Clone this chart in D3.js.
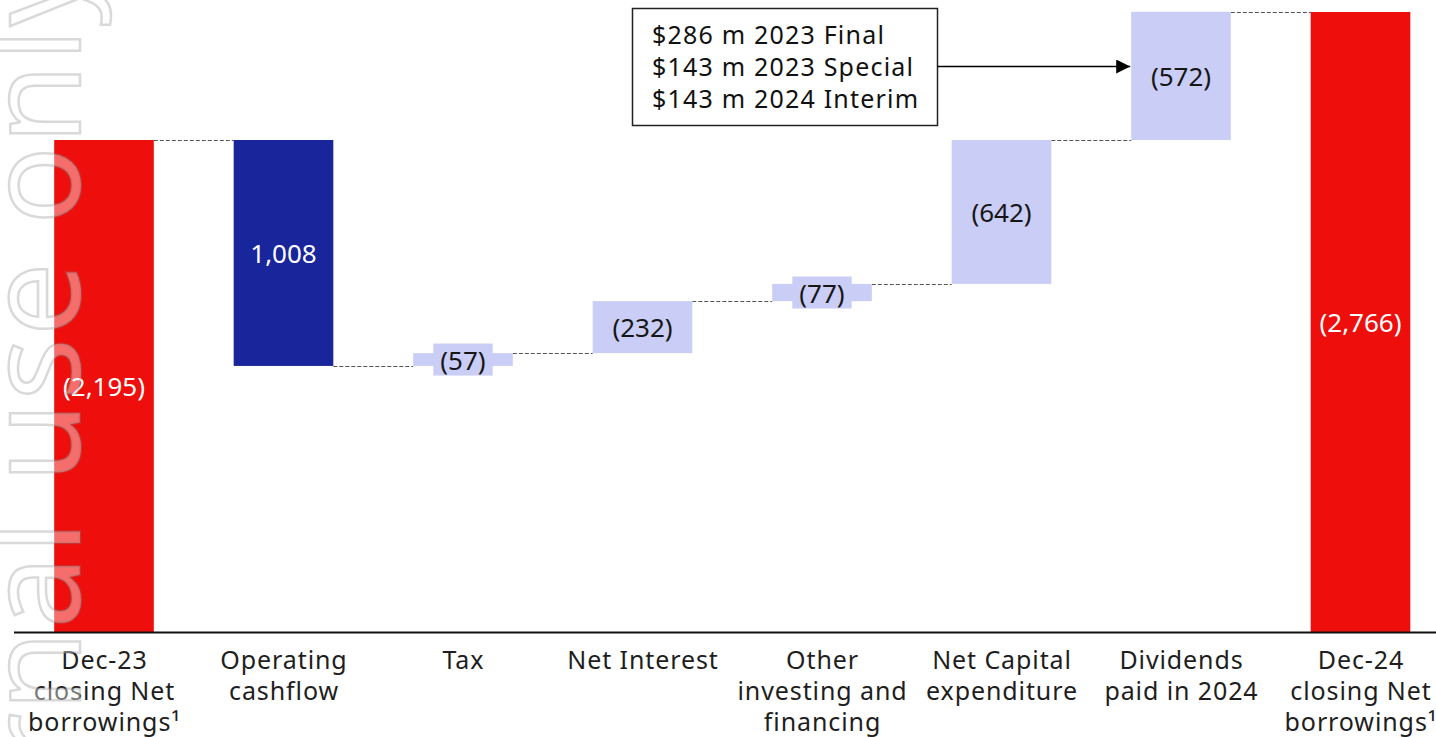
<!DOCTYPE html>
<html>
<head>
<meta charset="utf-8">
<script src="https://cdn.jsdelivr.net/npm/d3@7"></script>
<style>
  html, body { margin: 0; padding: 0; background: #ffffff; }
  svg { display: block; font-family: "Noto Sans", sans-serif; }
</style>
</head>
<body>
<svg id="chart" width="1436" height="737"></svg>
<script>
// ---- Data ----
const categories = [
  ["Dec-23", "closing Net", "borrowings\u00B9"],
  ["Operating", "cashflow"],
  ["Tax"],
  ["Net Interest"],
  ["Other", "investing and", "financing"],
  ["Net Capital", "expenditure"],
  ["Dividends", "paid in 2024"],
  ["Dec-24", "closing Net", "borrowings\u00B9"]
];
// movement in net borrowings (US$ m); totals are absolute levels
const amounts = [2195, -1008, 57, 232, 77, 642, 572, 2766];
const kinds = ["total", "decrease", "increase", "increase", "increase", "increase", "increase", "total"];
const valueLabels = ["(2,195)", "1,008", "(57)", "(232)", "(77)", "(642)", "(572)", "(2,766)"];
const calloutLines = ["$286 m 2023 Final", "$143 m 2023 Special", "$143 m 2024 Interim"];
const watermarkText = "Internal use only";

// ---- Styles ----
const colors = { total: "#ee0e0b", decrease: "#19259a", increase: "#cacdf6" };
const labelColors = { total: "#ffffff", decrease: "#ffffff", increase: "#161616" };
const W = 1436, H = 737;
const baseY = 632, topY = 12;

const svg = d3.select("#chart");

// ---- Build waterfall steps ----
let running = 0;
const steps = amounts.map((v, i) => {
  let lo, hi, end;
  if (kinds[i] === "total") { lo = 0; hi = v; end = v; }
  else { const start = running; end = start + v; lo = Math.min(start, end); hi = Math.max(start, end); }
  running = end;
  return { i, cat: categories[i], kind: kinds[i], lo, hi, end, label: valueLabels[i] };
});

// ---- Scales ----
const x = d3.scaleBand()
  .domain(d3.range(categories.length))
  .range([14.25, 1450.25])
  .paddingInner(0.445)
  .paddingOuter(0.2225);
const y = d3.scaleLinear().domain([0, d3.max(amounts)]).range([baseY, topY]);
const bw = x.bandwidth();

// ---- Connectors ----
svg.append("g").selectAll("line")
  .data(steps.slice(0, -1))
  .join("line")
  .attr("x1", d => x(d.i) + bw)
  .attr("x2", d => x(d.i + 1))
  .attr("y1", d => Math.round(y(d.end)) + 0.5)
  .attr("y2", d => Math.round(y(d.end)) + 0.5)
  .attr("stroke", "#555")
  .attr("stroke-width", 1)
  .attr("stroke-dasharray", "4,2");

// ---- Bars ----
svg.append("g").selectAll("rect")
  .data(steps)
  .join("rect")
  .attr("x", d => x(d.i))
  .attr("y", d => y(d.hi))
  .attr("width", bw)
  .attr("height", d => y(d.lo) - y(d.hi))
  .attr("fill", d => colors[d.kind]);

// ---- Value labels ----
const lblG = svg.append("g");
steps.forEach(d => {
  const cx = x(d.i) + bw / 2;
  const cy = (y(d.lo) + y(d.hi)) / 2;
  const barH = y(d.lo) - y(d.hi);
  const g = lblG.append("g");
  const t = g.append("text")
    .attr("x", cx).attr("y", cy)
    .attr("text-anchor", "middle")
    .attr("dominant-baseline", "central")
    .attr("font-size", 26)
    .attr("fill", labelColors[d.kind])
    .text(d.label);
  if (barH < 32) {
    const bb = t.node().getBBox();
    g.insert("rect", "text")
      .attr("x", cx - bb.width / 2 - 7)
      .attr("y", cy - 16)
      .attr("width", bb.width + 14)
      .attr("height", 32)
      .attr("fill", colors[d.kind]);
  }
});

// ---- Axis line ----
svg.append("line")
  .attr("x1", 14).attr("x2", W)
  .attr("y1", baseY + 0.5).attr("y2", baseY + 0.5)
  .attr("stroke", "#111").attr("stroke-width", 2);

// ---- Category labels ----
const catG = svg.append("g");
steps.forEach(d => {
  const cx = x(d.i) + bw / 2 + 0.5;
  const t = catG.append("text")
    .attr("text-anchor", "middle")
    .attr("font-size", 25)
    .attr("letter-spacing", 0.9)
    .attr("fill", "#1e1e1e");
  d.cat.forEach((line, k) => {
    t.append("tspan").attr("x", cx).attr("y", 669 + k * 31).text(line);
  });
});

// ---- Callout ----
const callout = { x: 632.5, y: 8.5, w: 305, h: 117 };
svg.append("rect")
  .attr("x", callout.x).attr("y", callout.y)
  .attr("width", callout.w).attr("height", callout.h)
  .attr("fill", "#fff").attr("stroke", "#222").attr("stroke-width", 1.5);
const ct = svg.append("text").attr("font-size", 25).attr("letter-spacing", 1.2).attr("fill", "#111");
calloutLines.forEach((line, k) => {
  ct.append("tspan").attr("x", 652).attr("y", 44 + k * 32).text(line);
});
const divBar = steps[6];
const arrowY = 66.5;
svg.append("defs").append("marker")
  .attr("id", "arrow")
  .attr("viewBox", "0 0 10 10")
  .attr("refX", 10).attr("refY", 5)
  .attr("markerWidth", 16).attr("markerHeight", 14)
  .attr("markerUnits", "userSpaceOnUse")
  .attr("orient", "auto")
  .append("path").attr("d", "M0,0 L10,5 L0,10 Z").attr("fill", "#000");
svg.append("line")
  .attr("x1", callout.x + callout.w).attr("x2", x(divBar.i) - 1)
  .attr("y1", arrowY).attr("y2", arrowY)
  .attr("stroke", "#000").attr("stroke-width", 1.5)
  .attr("marker-end", "url(#arrow)");

// ---- Watermark ----
svg.append("text")
  .attr("transform", "translate(80,-42) rotate(-90)")
  .attr("x", 0).attr("y", 0)
  .attr("text-anchor", "end")
  .attr("font-size", 130)
  .attr("letter-spacing", 2)
  .attr("fill", "rgba(255,255,255,0.4)")
  .attr("stroke", "rgba(128,128,128,0.3)")
  .attr("stroke-width", 2.5)
  .text(watermarkText);
</script>
</body>
</html>
